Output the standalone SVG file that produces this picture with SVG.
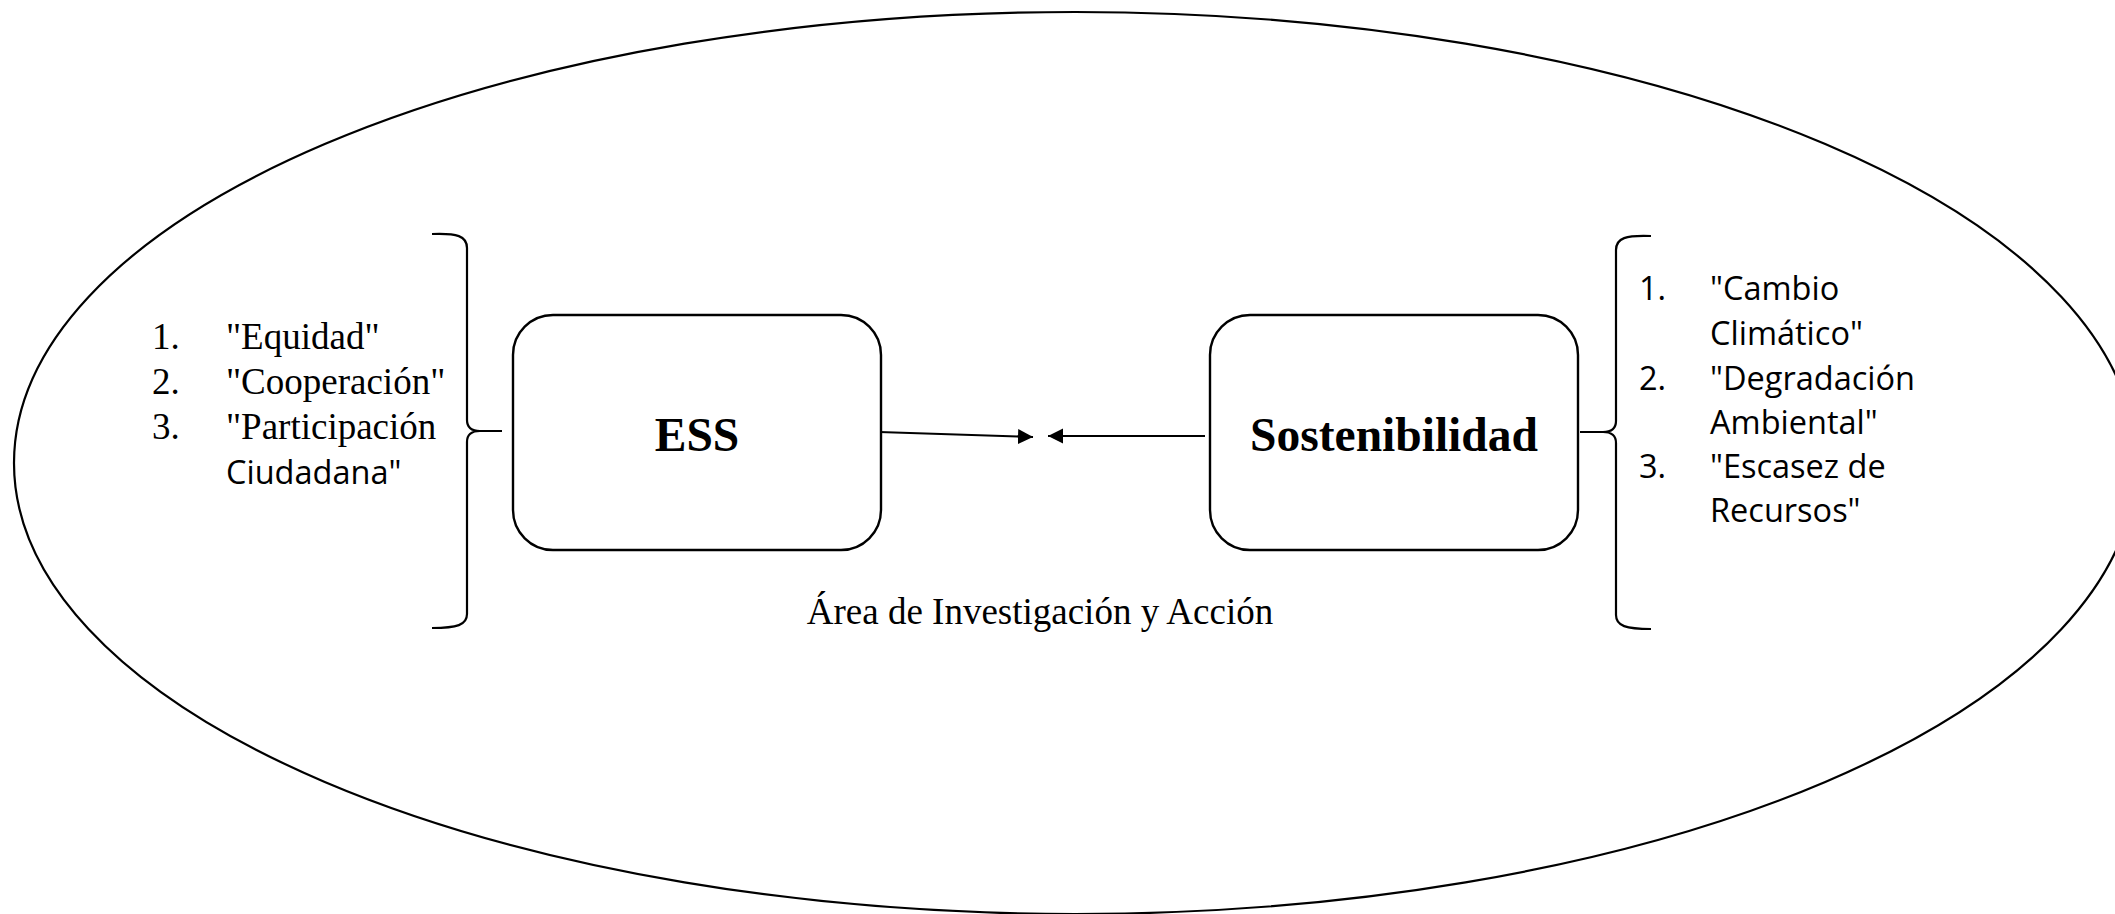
<svg xmlns="http://www.w3.org/2000/svg" width="2115" height="914" viewBox="0 0 2115 914">
<style>
.ln{fill:none;stroke:#000;stroke-width:2.2}
.box{fill:#fff;stroke:#000;stroke-width:2.4}
.serif{font-family:"Liberation Serif","Times New Roman",serif;font-size:37px;fill:#000}
.bold{font-family:"Liberation Serif","Times New Roman",serif;font-size:47.5px;font-weight:bold;fill:#000}
.sans{font-family:"Open Sans","Noto Sans",sans-serif;font-size:32.5px;fill:#000}
</style>
<defs>
<marker id="ah" markerWidth="16" markerHeight="16" refX="15" refY="8" orient="auto" markerUnits="userSpaceOnUse">
<path d="M0,0.5 L15,8 L0,15.5 Z" fill="#000"/>
</marker>
</defs>
<rect width="2115" height="914" fill="#fff"/>
<g id="area">
<ellipse class="ln" cx="1075" cy="463" rx="1061" ry="451"/>
<text class="serif" x="1040" y="624" text-anchor="middle">Área de Investigación y Acción</text>
</g>
<g id="connectors">
<line class="ln" x1="879" y1="432" x2="1033" y2="437" marker-end="url(#ah)"/>
<line class="ln" x1="1205" y1="436" x2="1048" y2="436" marker-end="url(#ah)"/>
</g>
<g id="ess">
<rect class="box" x="513" y="315" width="368" height="235" rx="40"/>
<text class="bold" x="697" y="451" text-anchor="middle">ESS</text>
</g>
<g id="sostenibilidad">
<rect class="box" x="1210" y="315" width="368" height="235" rx="40"/>
<text class="bold" x="1394" y="451" text-anchor="middle">Sostenibilidad</text>
</g>
<g id="ess-list">
<path class="ln" d="M432,234 C457,233 467,236 467,248 L467,420 C467,428 472,431 480,431 L502,431 L480,431 C472,431 467,434 467,442 L467,614 C467,625 457,628 432,628"/>
<text class="serif" x="152" y="349">1.</text>
<text class="serif" x="226" y="349">"Equidad"</text>
<text class="serif" x="152" y="394">2.</text>
<text class="serif" x="226" y="394">"Cooperación"</text>
<text class="serif" x="152" y="439">3.</text>
<text class="serif" x="226" y="439">"Participación</text>
<text class="sans" x="226" y="484">Ciudadana"</text>
</g>
<g id="sost-list">
<path class="ln" d="M1651,236 C1626,235 1616,238 1616,250 L1616,421 C1616,429 1611,432 1603,432 L1580,432 L1603,432 C1611,432 1616,435 1616,443 L1616,615 C1616,626 1626,629 1651,629"/>
<text class="sans" x="1639" y="300">1.</text>
<text class="sans" x="1710" y="300">"Cambio</text>
<text class="sans" x="1710" y="345">Climático"</text>
<text class="sans" x="1639" y="390">2.</text>
<text class="sans" x="1710" y="390">"Degradación</text>
<text class="sans" x="1710" y="434">Ambiental"</text>
<text class="sans" x="1639" y="478">3.</text>
<text class="sans" x="1710" y="478">"Escasez de</text>
<text class="sans" x="1710" y="522">Recursos"</text>
</g>
</svg>
